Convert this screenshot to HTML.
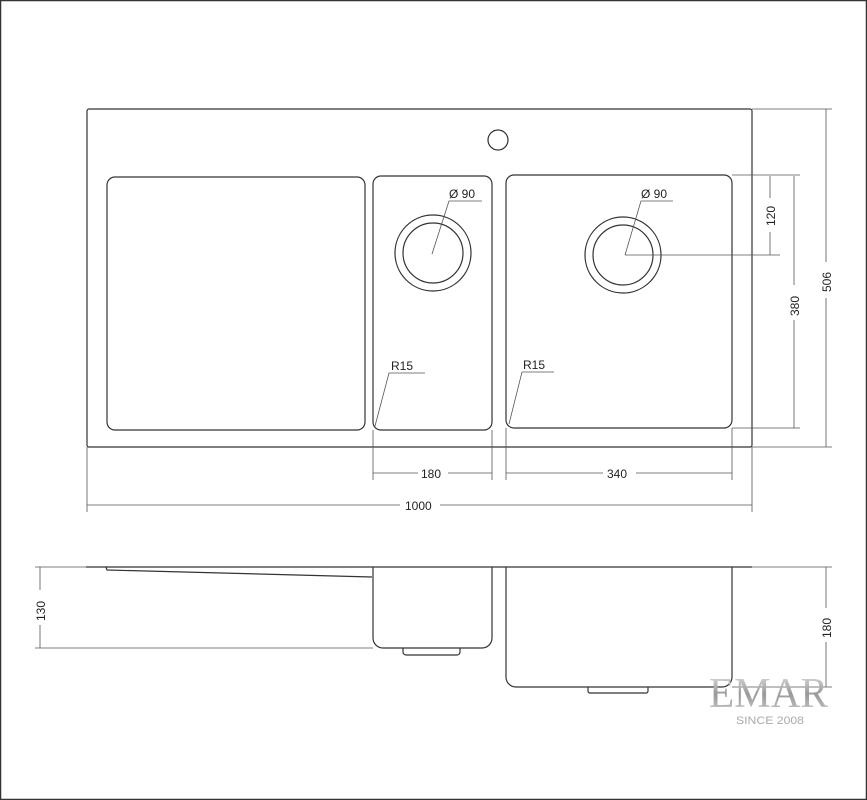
<!DOCTYPE html>
<html><head><meta charset="utf-8"><style>
html,body{margin:0;padding:0;background:#fff}
svg{display:block}
text{font-family:"Liberation Sans",sans-serif;fill:#222}
</style></head><body>
<svg width="867" height="800" viewBox="0 0 867 800" xmlns="http://www.w3.org/2000/svg">
<defs>
<linearGradient id="g" x1="0" y1="0" x2="0" y2="1">
<stop offset="0" stop-color="#e6e6e6"/><stop offset="0.5" stop-color="#999"/><stop offset="1" stop-color="#d0d0d0"/>
</linearGradient>
</defs>
<rect x="0.5" y="0.5" width="866" height="799" fill="#fff" stroke="#333" stroke-width="1.5"/>
<g fill="none" stroke="#333" stroke-width="1.2">
<rect x="87" y="109" width="665" height="338" rx="2"/>
<circle cx="498" cy="140" r="10"/>
<rect x="107" y="177" width="258" height="253" rx="8"/>
<rect x="373" y="176" width="119" height="254" rx="8"/>
<rect x="506" y="175" width="226" height="253" rx="8"/>
<circle cx="433" cy="253" r="38"/><circle cx="433" cy="253" r="30"/>
<circle cx="623" cy="255" r="38"/><circle cx="623" cy="255" r="30"/>
</g>
<g fill="none" stroke="#555" stroke-width="0.8">
<polyline points="432,254 449,201 482,201"/>
<polyline points="625,255 641,201 673,201"/>
<polyline points="375,426 389,373 425,373"/>
<polyline points="509,424 522,372 554,372"/>
<line x1="625" y1="255" x2="780" y2="255"/>
<line x1="732" y1="175" x2="800" y2="175"/>
<line x1="732" y1="428" x2="800" y2="428"/>
<line x1="752" y1="109" x2="832" y2="109"/>
<line x1="752" y1="447" x2="832" y2="447"/>
<line x1="770" y1="176" x2="770" y2="198"/><line x1="770" y1="232" x2="770" y2="255"/>
<line x1="794" y1="176" x2="794" y2="285"/><line x1="794" y1="320" x2="794" y2="428"/>
<line x1="826" y1="109" x2="826" y2="262"/><line x1="826" y1="298" x2="826" y2="447"/>
<line x1="373" y1="430" x2="373" y2="480"/><line x1="492" y1="430" x2="492" y2="480"/>
<line x1="506" y1="428" x2="506" y2="480"/><line x1="732" y1="428" x2="732" y2="480"/>
<line x1="87" y1="447" x2="87" y2="512"/><line x1="752" y1="447" x2="752" y2="512"/>
<line x1="373" y1="473" x2="418" y2="473"/><line x1="448" y1="473" x2="492" y2="473"/>
<line x1="506" y1="473" x2="603" y2="473"/><line x1="636" y1="473" x2="732" y2="473"/>
<line x1="87" y1="505" x2="400" y2="505"/><line x1="440" y1="505" x2="752" y2="505"/>
<line x1="35" y1="567" x2="86" y2="567"/><line x1="35" y1="648" x2="373" y2="648"/>
<line x1="40" y1="567" x2="40" y2="590"/><line x1="40" y1="625" x2="40" y2="648"/>
<line x1="752" y1="567" x2="832" y2="567"/><line x1="732" y1="687" x2="832" y2="687"/>
<line x1="826" y1="567" x2="826" y2="608"/><line x1="826" y1="642" x2="826" y2="687"/>
</g>
<g style="fill:#333;font-size:12px">
<text x="449" y="198">Ø 90</text>
<text x="641" y="198">Ø 90</text>
<text x="391" y="370">R15</text>
<text x="523" y="369">R15</text>
<text x="421" y="478">180</text>
<text x="607" y="478">340</text>
<text x="405" y="510">1000</text>
<text transform="translate(775,226) rotate(-90)">120</text>
<text transform="translate(799,316) rotate(-90)">380</text>
<text transform="translate(831,292) rotate(-90)">506</text>
<text transform="translate(45,621) rotate(-90)">130</text>
<text transform="translate(831,638) rotate(-90)">180</text>
</g>
<g fill="none" stroke="#333" stroke-width="1.2">
<line x1="86" y1="567" x2="752" y2="567"/>
<polyline points="106,567 107,570 372,577"/>
<path d="M373,567 V638 a10,10 0 0 0 10,10 H482 a10,10 0 0 0 10,-10 V567"/>
<path d="M403,648 v4 a3,3 0 0 0 3,3 H457 a3,3 0 0 0 3,-3 v-4"/>
<path d="M506,567 V677 a10,10 0 0 0 10,10 H722 a10,10 0 0 0 10,-10 V567"/>
<path d="M588,687 v4 a2,2 0 0 0 2,2 H646 a2,2 0 0 0 2,-2 v-4"/>
</g>
<text x="709" y="707" textLength="119" lengthAdjust="spacingAndGlyphs" style="font-family:'Liberation Serif',serif;font-size:42px;fill:url(#g)">EMAR</text>
<text x="736" y="724" textLength="68" lengthAdjust="spacingAndGlyphs" style="font-size:11px;fill:#aaa">SINCE 2008</text>
</svg>
</body></html>
